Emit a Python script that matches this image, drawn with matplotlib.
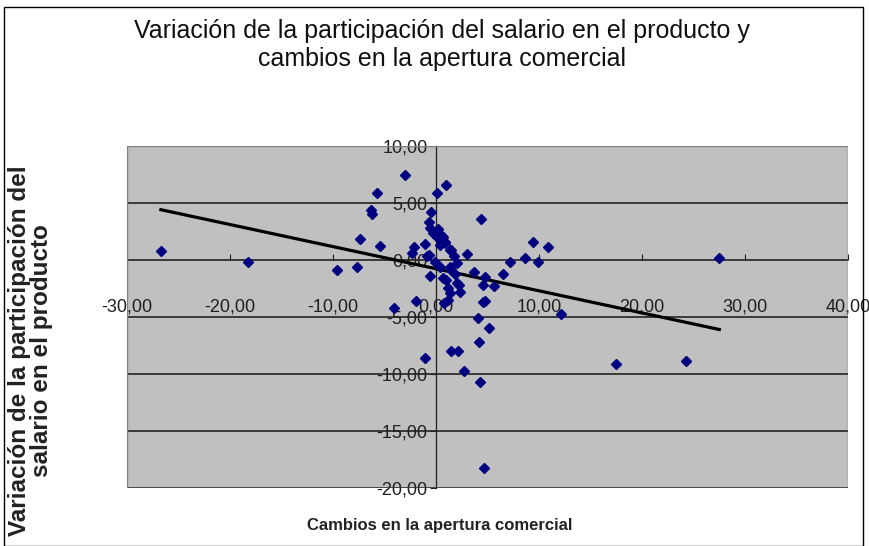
import matplotlib
matplotlib.use("Agg")
import matplotlib.pyplot as plt
from matplotlib.patches import Rectangle
from matplotlib.ticker import FuncFormatter


# cambios en la apertura comercial (x) / variación de la participación del salario (y)
apertura = [-26.7, -18.2, -9.6, -7.7, -7.4, -6.3, -6.2, -5.7, -5.4, -4.1,
            -3.0, -2.3, -2.1, -1.9, -1.1, -1.1, -0.7, -0.6, -0.5, -0.3,
            -0.7, -0.6, -0.1, 0.1, 0.4, 0.6, 0.9, 0.7, 0.8, 1.0,
            1.4, 1.4, 1.2, 1.5, 1.7, 1.8, 2.1, 2.2, 2.3, 2.7,
            3.0, 3.7, 4.1, 4.2, 4.3, 4.4, 4.6, 4.8, 4.6, 4.8,
            4.7, 5.1, 5.6, 6.5, 7.2, 8.6, 9.4, 9.9, 10.9, 12.1,
            17.5, 24.3, 27.5,
            0.2, 0.1, 0.7, 0.9, 1.5, 2.0, 1.5, 0.4, -0.9, 1.0, 2.0, 1.4, 1.2]
salario = [0.8, -0.15, -0.9, -0.6, 1.8, 4.4, 4.0, 5.85, 1.2, -4.2,
           7.4, 0.6, 1.1, -3.6, -8.6, 1.4, 3.3, 2.8, 4.2, 2.4,
           0.4, -1.4, -0.15, 5.85, 1.3, 2.1, 1.6, -1.6, -3.8, 6.6,
           0.9, -0.6, -2.5, -8.0, 0.3, -1.2, -8.0, -2.2, -2.8, -9.7,
           0.5, -1.1, -5.1, -7.2, -10.7, 3.6, -3.7, -3.6, -2.2, -1.5,
           -18.2, -6.0, -2.3, -1.2, -0.2, 0.2, 1.6, -0.2, 1.1, -4.7,
           -9.1, -8.9, 0.15,
           2.7, 2.0, 2.0, 1.5, 0.9, -0.3, -0.9, -0.6, 0.3, -1.8, -2.0, -2.9, -3.5]

# línea de tendencia (extremos)
tendencia_x = [-26.7, 27.5]
tendencia_y = [4.4, -6.1]

x_ticks = [-30, -20, -10, 0, 10, 20, 30, 40]
y_ticks = [-20, -15, -10, -5, 0, 5, 10]


def coma(v, pos):
    return f"{v:.2f}".replace(".", ",")


plt.rcParams["font.family"] = ["Liberation Sans", "DejaVu Sans"]

fig = plt.figure(figsize=(8.69, 5.46), dpi=100)
fig.patches.append(Rectangle((0.005, 0.0), 0.988, 0.987, transform=fig.transFigure,
                             fill=False, edgecolor="black", linewidth=1))

ax = fig.add_axes([0.146, 0.106, 0.830, 0.627])
ax.set_facecolor("#C0C0C0")
ax.set_xlim(-30, 40)
ax.set_ylim(-20, 10)

for yv in y_ticks:
    ax.axhline(yv, color="#3a3a3a", linewidth=1.4, zorder=1)

ax.plot(tendencia_x, tendencia_y, color="black", linewidth=2.3, zorder=3)
ax.plot(apertura, salario, linestyle="none", marker="D", markersize=5.5,
        color="#000080", zorder=4)

# ejes cruzando en cero
ax.spines["left"].set_position(("data", 0))
ax.spines["bottom"].set_position(("data", 0))
ax.spines["left"].set_color("#202020")
ax.spines["left"].set_linewidth(0.9)
ax.spines["bottom"].set_visible(False)
ax.spines["top"].set_visible(False)
ax.spines["right"].set_visible(False)
ax.add_patch(Rectangle((0, 0), 1, 1, transform=ax.transAxes, fill=False,
                       edgecolor="#808080", linewidth=1, zorder=5))

ax.set_xticks(x_ticks)
ax.set_yticks(y_ticks)
ax.xaxis.set_major_formatter(FuncFormatter(coma))
ax.yaxis.set_major_formatter(FuncFormatter(coma))
ax.tick_params(axis="x", direction="in", length=4, width=0.8, pad=28,
               labelsize=13, colors="#202020")
ax.tick_params(axis="y", direction="out", length=4, width=0.8, pad=2,
               labelsize=13, colors="#202020")

fig.text(0.509, 0.918, "Variación de la participación del salario en el producto y\ncambios en la apertura comercial",
         ha="center", va="center", fontsize=18, linespacing=1.2, color="#111111")
fig.text(0.506, 0.038, "Cambios en la apertura comercial", ha="center", va="center",
         fontsize=12, fontweight="bold", color="#222222")
fig.text(0.035, 0.358, "Variación de la participación del\nsalario en el producto", rotation=90,
         ha="center", va="center", fontsize=17.5, fontweight="bold", linespacing=0.9,
         multialignment="center", color="#222222")

fig.savefig("out.png", dpi=100)
